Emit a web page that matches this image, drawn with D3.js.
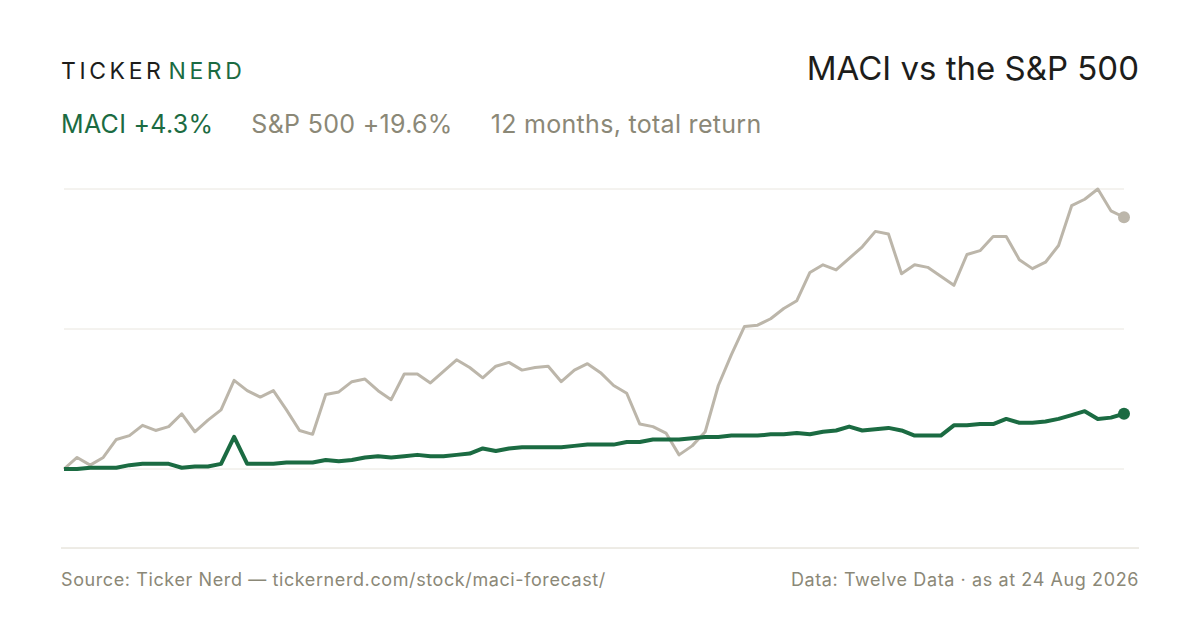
<!DOCTYPE html>
<html><head><meta charset="utf-8">
<script src="https://cdn.jsdelivr.net/npm/d3@7"></script>
<style>body{margin:0;background:#fff}svg{display:block;font-family:Inter,"Noto Sans",sans-serif}</style>
</head><body><svg id="c" width="1200" height="630"></svg>
<script>
// total return, % since start
const spx = [0,0.9,0.3,0.9,2.3,2.6,3.4,3.0,3.3,4.3,2.9,3.8,4.6,6.9,6.1,5.6,6.1,4.6,3.0,2.7,5.8,6.0,6.8,7.0,6.1,5.4,7.4,7.4,6.7,7.6,8.5,7.9,7.1,8.0,8.3,7.7,7.9,8.0,6.8,7.7,8.2,7.5,6.5,5.9,3.5,3.3,2.8,1.1,1.8,2.9,6.5,8.9,11.1,11.2,11.7,12.5,13.1,15.3,15.9,15.5,16.4,17.3,18.5,18.3,15.2,15.9,15.7,15.0,14.3,16.7,17.0,18.1,18.1,16.3,15.6,16.1,17.4,20.5,21.0,21.8,20.1,19.6];
const maci = [0,0,0.1,0.1,0.1,0.3,0.4,0.4,0.4,0.1,0.2,0.2,0.4,2.5,0.4,0.4,0.4,0.5,0.5,0.5,0.7,0.6,0.7,0.9,1.0,0.9,1.0,1.1,1.0,1.0,1.1,1.2,1.6,1.4,1.6,1.7,1.7,1.7,1.7,1.8,1.9,1.9,1.9,2.1,2.1,2.3,2.3,2.3,2.4,2.5,2.5,2.6,2.6,2.6,2.7,2.7,2.8,2.7,2.9,3.0,3.3,3.0,3.1,3.2,3.0,2.6,2.6,2.6,3.4,3.4,3.5,3.5,3.9,3.6,3.6,3.7,3.9,4.2,4.5,3.9,4.0,4.3];
const gridVals = [0, 10.9, 21.8];

const svg = d3.select("#c");
const green = "#1b6b42", grey = "#bcb6aa", muted = "#8b8877";

const x = d3.scaleLinear().domain([0, spx.length - 1]).range([64, 1124]);
const y = d3.scaleLinear().domain([0, 21.8]).range([469, 189]);

// header
let logo = svg.append("text").attr("x", 61).attr("y", 79).attr("font-size", 23).attr("letter-spacing", 3.6).attr("fill", "#1d1d1b");
logo.append("tspan").text("TICKER");
logo.append("tspan").attr("fill", green).attr("dx", 4).text("NERD");
svg.append("text").attr("x", 1139).attr("y", 80).attr("text-anchor", "end").attr("font-size", 33).attr("fill", "#1d1d1b").text("MACI vs the S&P 500");

let sub = svg.append("text").attr("x", 61).attr("y", 133).attr("font-size", 25).attr("letter-spacing", 0.3);
sub.append("tspan").attr("fill", green).text("MACI +4.3%");
sub.append("tspan").attr("fill", muted).attr("dx", 38).text("S&P 500 +19.6%");
sub.append("tspan").attr("fill", muted).attr("dx", 38).text("12 months, total return");

// gridlines
svg.selectAll(".grid").data(gridVals).enter().append("line")
	.attr("x1", 64).attr("x2", 1124)
	.attr("y1", d => y(d)).attr("y2", d => y(d))
	.attr("stroke", "#e9e6df").attr("stroke-width", 1);

svg.append("line").attr("x1", 61).attr("x2", 1139).attr("y1", 548).attr("y2", 548).attr("stroke", "#dcd8cc");

const line = d3.line().x((d, i) => x(i)).y(d => y(d));

svg.append("path").datum(spx).attr("d", line).attr("fill", "none").attr("stroke", grey).attr("stroke-width", 3).attr("stroke-linejoin", "round");
svg.append("path").datum(maci).attr("d", line).attr("fill", "none").attr("stroke", green).attr("stroke-width", 4).attr("stroke-linejoin", "round");

svg.append("circle").attr("cx", x(spx.length - 1)).attr("cy", y(spx[spx.length - 1])).attr("r", 6).attr("fill", grey);
svg.append("circle").attr("cx", x(maci.length - 1)).attr("cy", y(maci[maci.length - 1])).attr("r", 6).attr("fill", green);

// footer
svg.append("text").attr("x", 61).attr("y", 586).attr("font-size", 18).attr("letter-spacing", 0.6).attr("fill", muted).text("Source: Ticker Nerd \u2014 tickernerd.com/stock/maci-forecast/");
svg.append("text").attr("x", 1139).attr("y", 586).attr("text-anchor", "end").attr("font-size", 18).attr("letter-spacing", 0.6).attr("fill", muted).text("Data: Twelve Data \u00b7 as at 24 Aug 2026");
</script></body></html>
